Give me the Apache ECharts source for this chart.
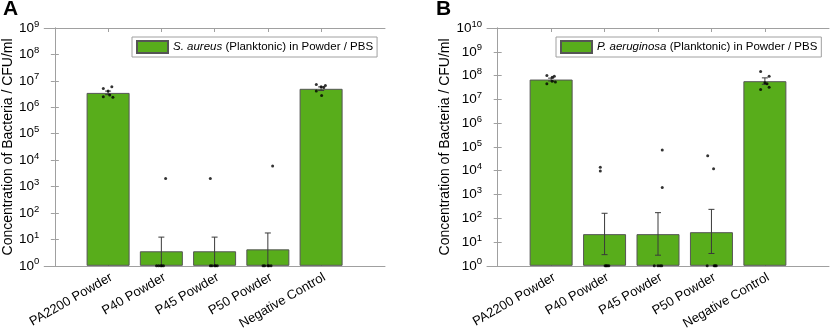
<!DOCTYPE html>
<html>
<head>
<meta charset="utf-8">
<script src="https://cdn.jsdelivr.net/npm/echarts@6/dist/echarts.min.js"></script>
<style>html,body{margin:0;padding:0;background:#fff}#c{width:830px;height:332px}</style>
</head>
<body>
<div id="c"></div>
<script>
// ---- data ----
const categories = ['PA2200 Powder', 'P40 Powder', 'P45 Powder', 'P50 Powder', 'Negative Control'];
const catPos = [1, 2, 3, 4, 5];

const yExpA = [0, 1, 2, 3, 4, 5, 6, 7, 8, 9];
const yExpB = [0, 1, 2, 3, 4, 5, 6, 7, 8, 9, 10];

const barsA = [3.5e6, 3.55, 3.55, 4.2, 5.0e6];
const errLowA = [3.0e6, 1, 1, 1, 4.3e6];
const errHighA = [4.1e6, 12.2, 12.2, 17.5, 5.9e6];

const barsB = [6.8e7, 21.5, 21.5, 26, 5.8e7];
const errLowB = [5.9e7, 2.95, 2.8, 3.3, 4.3e7];
const errHighB = [7.8e7, 162, 172, 237, 8.0e7];

// individual replicates: [jitter offset (category units), CFU/ml]
const ptsA_PA2200 = [[-0.09, 5.1e6], [0.07, 6.0e6], [0.0, 4.1e6], [-0.09, 2.5e6], [0.09, 2.4e6], [0.03, 2.9e6]];
const ptsA_P40 = [[0.08, 2000], [-0.09, 1], [-0.01, 1], [0.04, 1], [0.01, 1], [-0.05, 1]];
const ptsA_P45 = [[-0.08, 2000], [-0.08, 1], [0.0, 1], [0.05, 1], [0.02, 1], [-0.05, 1]];
const ptsA_P50 = [[0.09, 6000], [-0.09, 1], [0.0, 1], [0.06, 1], [0.02, 1], [-0.06, 1]];
const ptsA_NC = [[-0.09, 7.3e6], [0.08, 6.6e6], [0.0, 6.0e6], [-0.09, 4.1e6], [0.01, 2.8e6], [0.05, 5.6e6]];

const ptsB_PA2200 = [[-0.08, 1.0e8], [0.06, 9.3e7], [0.02, 8.5e7], [-0.08, 4.5e7], [0.02, 5.8e7], [0.08, 5.3e7]];
const ptsB_P40 = [[-0.08, 1.4e4], [-0.08, 9.7e3], [0.01, 1], [0.03, 1], [0.05, 1], [0.08, 1]];
const ptsB_P45 = [[0.08, 7.5e4], [0.08, 1950], [-0.07, 1], [0.0, 1], [0.07, 1], [0.04, 1]];
const ptsB_P50 = [[-0.07, 4.3e4], [0.04, 1.2e4], [-0.08, 1], [0.07, 1], [0.05, 1], [0.09, 1]];
const ptsB_NC = [[-0.08, 1.5e8], [0.08, 9.3e7], [0.04, 4.5e7], [-0.08, 2.6e7], [0.08, 3.2e7], [0.0, 5.0e7]];

const nameA = 'S. aureus (Planktonic) in Powder / PBS';
const nameB = 'P. aeruginosa (Planktonic) in Powder / PBS';
const yTitle = 'Concentration of Bacteria / CFU/ml';

// ---- build ----
const FONT = '"Liberation Sans", Arial, Helvetica, sans-serif';
const GREEN = '#58ad1b';
const AXC = '#a0a0a0';

function scatterData(groups) {
  const out = [];
  groups.forEach((g, i) => g.forEach(p => out.push([catPos[i] + p[0], p[1]])));
  return out;
}
function yAxes(grid, exps) {
  const vals = exps.map(e => Math.pow(10, e));
  const base = {
    type: 'log', logBase: 10, gridIndex: grid,
    min: vals[0], max: vals[vals.length - 1],
    axisLine: { show: true, lineStyle: { color: AXC, width: 1 } },
    axisTick: { show: true, inside: true, length: 4, customValues: vals, lineStyle: { color: AXC } },
    minorTick: { show: false }, splitLine: { show: false }
  };
  return [
    Object.assign({}, base, {
      position: 'left',
      name: yTitle, nameLocation: 'middle', nameGap: grid === 0 ? 26 : 34,
      nameTextStyle: { fontFamily: FONT, fontSize: 14, color: '#000' },
      axisLabel: {
        customValues: vals, margin: 5, fontFamily: FONT, color: '#000',
        formatter: v => '{b|10}{s|' + Math.round(Math.log10(v)) + '}',
        rich: { b: { fontSize: 13.5, fontFamily: FONT, color: '#000' },
                s: { fontSize: 9.5, fontFamily: FONT, color: '#000', padding: [0, 0, 8, 0] } }
      }
    }),
    Object.assign({}, base, { position: 'right', axisLabel: { show: false } })
  ];
}
function xAxes(grid) {
  const base = {
    type: 'value', gridIndex: grid, min: -0.2, max: 6.2,
    axisLine: { show: true, onZero: false, lineStyle: { color: AXC, width: 1 } },
    axisTick: { show: true, inside: true, length: 4, customValues: catPos, lineStyle: { color: AXC } },
    splitLine: { show: false }
  };
  return [
    Object.assign({}, base, {
      position: 'bottom',
      axisLabel: {
        customValues: catPos, rotate: 30, margin: 5, align: 'right', verticalAlign: 'top',
        fontFamily: FONT, fontSize: 13, color: '#000',
        formatter: v => categories[Math.round(v) - 1] || ''
      }
    }),
    Object.assign({}, base, { position: 'top', axisLabel: { show: false } })
  ];
}
function errorSeries(idx, lows, highs) {
  return {
    type: 'custom', xAxisIndex: idx * 2, yAxisIndex: idx * 2, z: 4,
    data: catPos.map((c, i) => [c, lows[i], highs[i]]),
    renderItem: function (params, api) {
      const x = api.value(0);
      const lo = api.coord([x, api.value(1)]);
      const hi = api.coord([x, api.value(2)]);
      const cs = params.coordSys;
      const bottom = cs.y + cs.height;
      const loY = Math.min(lo[1], bottom);
      const hw = 3;
      const st = { stroke: '#3a3a3a', lineWidth: 1 };
      const ch = [
        { type: 'line', shape: { x1: hi[0], y1: hi[1], x2: hi[0], y2: loY }, style: st },
        { type: 'line', shape: { x1: hi[0] - hw, y1: hi[1], x2: hi[0] + hw, y2: hi[1] }, style: st }
      ];
      if (lo[1] < bottom - 0.5) {
        ch.push({ type: 'line', shape: { x1: lo[0] - hw, y1: lo[1], x2: lo[0] + hw, y2: lo[1] }, style: st });
      }
      return { type: 'group', children: ch };
    }
  };
}
function legendFor(idx, name, left, italic, rest) {
  return {
    show: true, data: [name], left: left, top: 37, orient: 'horizontal',
    icon: 'rect', itemWidth: 31, itemHeight: 12, itemGap: 0, itemTextGap: 6,
    padding: [3, 4, 3, 4], borderColor: '#a0a0a0', borderWidth: 1, backgroundColor: '#fff',
    selectedMode: false,
    formatter: () => '{i|' + italic + '} ' + rest,
    textStyle: {
      fontFamily: FONT, fontSize: 11.5, color: '#000',
      rich: { i: { fontFamily: FONT, fontSize: 11.5, fontStyle: 'italic', color: '#000' } }
    }
  };
}

const option = {
  animation: false,
  backgroundColor: '#fff',
  title: [
    { text: 'A', left: 3, top: -1, padding: 0, textStyle: { fontFamily: FONT, fontSize: 21, fontWeight: 'bold', color: '#000' } },
    { text: 'B', left: 436, top: -1, padding: 0, textStyle: { fontFamily: FONT, fontSize: 21, fontWeight: 'bold', color: '#000' } }
  ],
  grid: [
    { left: 42, top: 28, width: 343, height: 240 },
    { left: 487, top: 28, width: 342, height: 240 }
  ],
  legend: [
    legendFor(0, nameA, 132, 'S. aureus', '(Planktonic) in Powder / PBS'),
    legendFor(1, nameB, 556, 'P. aeruginosa', '(Planktonic) in Powder / PBS')
  ],
  xAxis: xAxes(0).concat(xAxes(1)),
  yAxis: yAxes(0, yExpA).concat(yAxes(1, yExpB)),
  series: [
    {
      name: nameA, type: 'bar', xAxisIndex: 0, yAxisIndex: 0, barWidth: 43, z: 2,
      itemStyle: { color: GREEN, borderColor: '#555', borderWidth: 1 },
      data: catPos.map((c, i) => [c, barsA[i]])
    },
    errorSeries(0, errLowA, errHighA),
    {
      type: 'scatter', xAxisIndex: 0, yAxisIndex: 0, symbolSize: 3, z: 5,
      itemStyle: { color: '#000' }, clip: false,
      data: scatterData([ptsA_PA2200, ptsA_P40, ptsA_P45, ptsA_P50, ptsA_NC])
    },
    {
      name: nameB, type: 'bar', xAxisIndex: 2, yAxisIndex: 2, barWidth: 43, z: 2,
      itemStyle: { color: GREEN, borderColor: '#555', borderWidth: 1 },
      data: catPos.map((c, i) => [c, barsB[i]])
    },
    errorSeries(1, errLowB, errHighB),
    {
      type: 'scatter', xAxisIndex: 2, yAxisIndex: 2, symbolSize: 3, z: 5,
      itemStyle: { color: '#000' }, clip: false,
      data: scatterData([ptsB_PA2200, ptsB_P40, ptsB_P45, ptsB_P50, ptsB_NC])
    }
  ]
};
const chart = echarts.init(document.getElementById('c'), null, { renderer: 'canvas' });
chart.setOption(option);
</script>
</body>
</html>
